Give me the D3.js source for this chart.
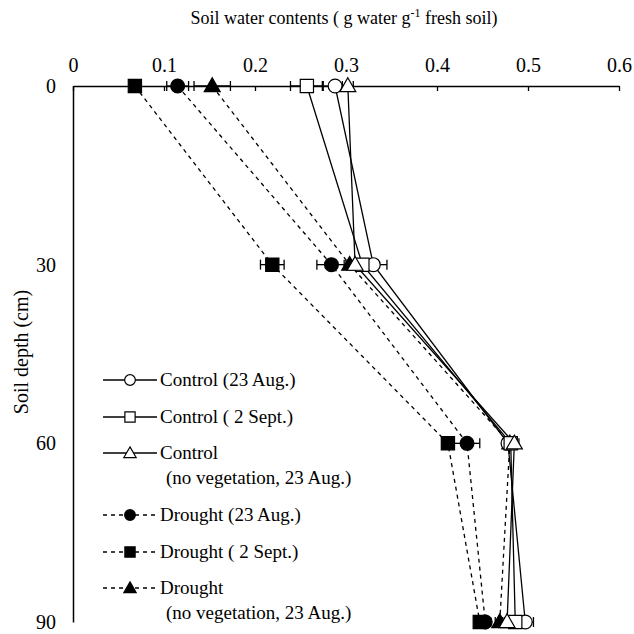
<!DOCTYPE html>
<html><head><meta charset="utf-8">
<script src="https://cdn.jsdelivr.net/npm/d3@7"></script>
<style>
body{margin:0;background:#fff;}
svg text{font-family:"Liberation Serif","Tinos","Times New Roman","DejaVu Serif",serif !important;fill:#000;}
</style></head>
<body><svg id="c" width="634" height="634"></svg>
<script>
const depths = [0, 30, 60, 90];
const xTicks = [0, 0.1, 0.2, 0.3, 0.4, 0.5, 0.6];
const yTicks = [0, 30, 60, 90];

const controlAug23 = [0.288, 0.330, 0.478, 0.497];
const controlAug23Err = [0.014, 0.015, 0.006, 0.009];
const controlSep2 = [0.257, 0.318, 0.481, 0.486];
const controlSep2Err = [0.018, 0.010, 0.004, 0.005];
const controlNoVeg = [0.302, 0.310, 0.485, 0.477];
const controlNoVegErr = [0.006, 0.008, 0.005, 0.005];
const droughtAug23 = [0.115, 0.284, 0.433, 0.453];
const droughtAug23Err = [0.012, 0.016, 0.014, 0.006];
const droughtSep2 = [0.068, 0.219, 0.412, 0.447];
const droughtSep2Err = [0.005, 0.013, 0.005, 0.005];
const droughtNoVeg = [0.153, 0.304, 0.480, 0.469];
const droughtNoVegErr = [0.020, 0.006, 0.005, 0.005];

const seriesNames = ["Control (23 Aug.)", "Control ( 2 Sept.)", "Control|(no vegetation, 23 Aug.)",
  "Drought (23 Aug.)", "Drought ( 2 Sept.)", "Drought|(no vegetation, 23 Aug.)"];

const series = [
  {name: seriesNames[3], v: droughtAug23, e: droughtAug23Err, shape: "circle", filled: true, dashed: true},
  {name: seriesNames[4], v: droughtSep2, e: droughtSep2Err, shape: "square", filled: true, dashed: true},
  {name: seriesNames[5], v: droughtNoVeg, e: droughtNoVegErr, shape: "triangle", filled: true, dashed: true},
  {name: seriesNames[0], v: controlAug23, e: controlAug23Err, shape: "circle", filled: false, dashed: false},
  {name: seriesNames[1], v: controlSep2, e: controlSep2Err, shape: "square", filled: false, dashed: false},
  {name: seriesNames[2], v: controlNoVeg, e: controlNoVegErr, shape: "triangle", filled: false, dashed: false}
];
const legendOrder = [3, 4, 5, 0, 1, 2];

const FONT = '"Liberation Serif", Tinos, "Times New Roman", "DejaVu Serif", serif';
const svg = d3.select("#c");
const x = d3.scaleLinear().domain([0, 0.6]).range([73, 619]);
const y = d3.scaleLinear().domain([0, 90]).range([86, 622]);

const symType = {circle: d3.symbolCircle, square: d3.symbolSquare, triangle: d3.symbolTriangle};
const symSize = {circle: 150, square: 175, triangle: 110};
function sym(shape){ return d3.symbol().type(symType[shape]).size(symSize[shape])(); }

// title
svg.append("text").attr("x", 344).attr("y", 24).attr("text-anchor", "middle")
  .style("font-size", "18px").style("font-family", FONT)
  .call(t => {
    t.append("tspan").text("Soil water contents ( g water  g");
    t.append("tspan").attr("dy", -7).style("font-size", "12px").text("-1");
    t.append("tspan").attr("dy", 7).text(" fresh soil)");
  });

// y axis title
svg.append("text").attr("transform", "translate(28,352) rotate(-90)")
  .attr("text-anchor", "middle").style("font-size", "20px").style("font-family", FONT).text("Soil depth (cm)");

// axes
const xAxis = d3.axisTop(x).tickValues(xTicks).tickSizeInner(-5).tickSizeOuter(0).tickPadding(14)
  .tickFormat(d => d === 0 ? "0" : d3.format(".1f")(d));
const gx = svg.append("g").attr("transform", `translate(0,${y(0)})`).call(xAxis);
gx.attr("font-family", null);
gx.selectAll("text").style("font-size", "20px").style("font-family", FONT);
gx.select(".domain").attr("stroke", "#000").attr("stroke-width", 1.5);
gx.selectAll(".tick line").attr("stroke-width", 1.3);

const yAxis = d3.axisLeft(y).tickValues(yTicks).tickSize(0).tickPadding(17);
const gy = svg.append("g").attr("transform", `translate(${x(0)},0)`).call(yAxis);
gy.attr("font-family", null);
gy.selectAll("text").style("font-size", "20px").style("font-family", FONT);
gy.select(".domain").attr("stroke", "#000").attr("stroke-width", 1.5);

// lines
const line = d3.line().x(d => x(d[0])).y(d => y(d[1]));
series.forEach(s => {
  const pts = s.v.map((v, i) => [v, depths[i]]);
  svg.append("path").attr("d", line(pts)).attr("fill", "none").attr("stroke", "#000")
    .attr("stroke-width", 1.3).attr("stroke-dasharray", s.dashed ? "4,4" : null);
});

// error bars
series.forEach(s => {
  s.v.forEach((v, i) => {
    const yy = y(depths[i]);
    const g = svg.append("g");
    g.append("line").attr("x1", x(v - s.e[i])).attr("x2", x(v + s.e[i])).attr("y1", yy).attr("y2", yy)
      .attr("stroke", "#000").attr("stroke-width", 1.3);
    [v - s.e[i], v + s.e[i]].forEach(ev => g.append("line").attr("x1", x(ev)).attr("x2", x(ev))
      .attr("y1", yy - 5).attr("y2", yy + 5).attr("stroke", "#000").attr("stroke-width", 1.3));
  });
});
// markers
series.forEach(s => {
  s.v.forEach((v, i) => {
    svg.append("path").attr("d", sym(s.shape))
      .attr("transform", `translate(${x(v)},${y(depths[i]) + (s.shape === "triangle" ? 1 : 0)})`)
      .attr("fill", s.filled ? "#000" : "#fff").attr("stroke", "#000").attr("stroke-width", 1.2);
  });
});

// legend
const legY = [380, 417, 453, 515, 552, 588];
legendOrder.forEach((si, k) => {
  const s = series[si];
  const ly = legY[k];
  const g = svg.append("g");
  g.append("line").attr("x1", 103).attr("x2", 157).attr("y1", ly).attr("y2", ly)
    .attr("stroke", "#000").attr("stroke-width", 1.3).attr("stroke-dasharray", s.dashed ? "4,4" : null);
  g.append("path").attr("d", d3.symbol().type(symType[s.shape]).size(symSize[s.shape] * 0.6)())
    .attr("transform", `translate(130,${ly + (s.shape === "triangle" ? 1 : 0)})`)
    .attr("fill", s.filled ? "#000" : "#fff").attr("stroke", "#000").attr("stroke-width", 1.2);
  const parts = s.name.split("|");
  parts.forEach((p, j) => {
    g.append("text").attr("x", j === 0 ? 160 : 166).attr("y", ly + 6 + j * 25)
      .style("font-size", "19px").style("font-family", FONT).text(p);
  });
});
</script></body></html>
